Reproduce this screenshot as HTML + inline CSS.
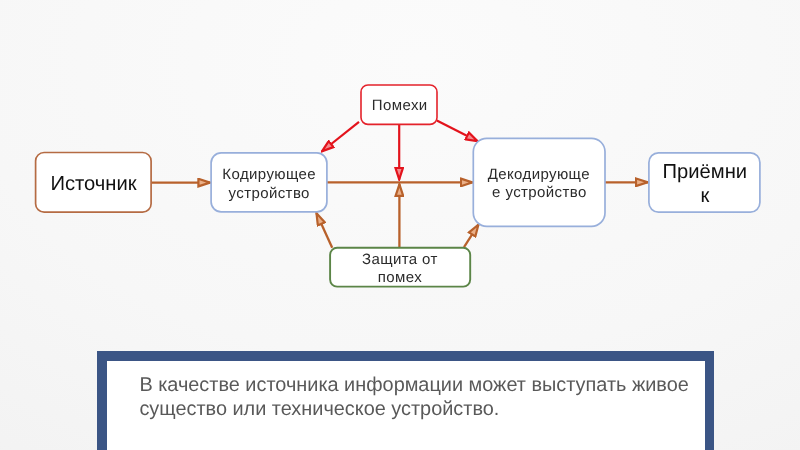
<!DOCTYPE html>
<html><head><meta charset="utf-8">
<style>
html,body{margin:0;padding:0;}
body{width:800px;height:450px;overflow:hidden;position:relative;
background:radial-gradient(ellipse 900px 600px at 420px 60px,#fbfbfb 0%,#f7f7f7 50%,#f0f0f0 100%);
font-family:"Liberation Sans",sans-serif;text-rendering:geometricPrecision;}
svg{position:absolute;left:0;top:0;will-change:transform;}
.note{position:absolute;left:97px;top:351px;width:597.8px;height:120px;border:10px solid #3b5585;border-right-width:9.3px;background:#fff;will-change:transform;}
.note p{margin:0;position:absolute;left:32.4px;font-size:19.9px;line-height:24px;color:#595959;white-space:nowrap;}
</style></head>
<body>
<svg width="800" height="450" viewBox="0 0 800 450" font-family="Liberation Sans, sans-serif">
<defs>
<marker id="ao" viewBox="0 0 14 10" refX="13" refY="5" markerWidth="14" markerHeight="10" markerUnits="userSpaceOnUse" orient="auto">
<path d="M1.2 1.2 L12.8 5 L1.2 8.8 Z" fill="#ebb088" stroke="#b8612b" stroke-width="2.2" stroke-linejoin="miter"/>
</marker>
<marker id="ar" viewBox="0 0 14 10" refX="13" refY="5" markerWidth="14" markerHeight="10" markerUnits="userSpaceOnUse" orient="auto">
<path d="M1.2 1.2 L12.8 5 L1.2 8.8 Z" fill="#f58a8e" stroke="#e3131c" stroke-width="2.2" stroke-linejoin="miter"/>
</marker>
</defs>
<!-- orange arrows -->
<g stroke="#b8612b" stroke-width="2.3" fill="none">
<line x1="151.5" y1="182.6" x2="210.2" y2="182.6" marker-end="url(#ao)"/>
<line x1="327" y1="182.4" x2="472.7" y2="182.4" marker-end="url(#ao)"/>
<line x1="605" y1="182.3" x2="647.8" y2="182.3" marker-end="url(#ao)"/>
<line x1="399.4" y1="247.8" x2="399.4" y2="184.1" marker-end="url(#ao)"/>
<line x1="332.2" y1="247.8" x2="316.4" y2="213.1" marker-end="url(#ao)"/>
<line x1="464" y1="247.2" x2="478.5" y2="224.5" marker-end="url(#ao)"/>
</g>
<!-- red arrows -->
<g stroke="#e3131c" stroke-width="2.2" fill="none">
<line x1="399.2" y1="124.4" x2="399.2" y2="179.6" marker-end="url(#ar)"/>
<line x1="359" y1="121.8" x2="321.8" y2="151.5" marker-end="url(#ar)"/>
<line x1="436.8" y1="120.4" x2="477.7" y2="141.3" marker-end="url(#ar)"/>
</g>
<!-- boxes -->
<rect x="35.6" y="152.5" width="115.5" height="59.7" rx="8.5" fill="#fff" stroke="#b56b43" stroke-width="1.7"/>
<rect x="211.1" y="152.9" width="115.8" height="58.9" rx="10" fill="#fff" stroke="#98afdb" stroke-width="1.7"/>
<rect x="361" y="85" width="76" height="39.4" rx="7" fill="#fff" stroke="#e4222b" stroke-width="1.6"/>
<rect x="473.3" y="138.3" width="131.7" height="88" rx="13.5" fill="#fff" stroke="#98afdb" stroke-width="1.7"/>
<rect x="648.9" y="152.9" width="111" height="59.2" rx="9.5" fill="#fff" stroke="#98afdb" stroke-width="1.7"/>
<rect x="330.1" y="247.8" width="140.1" height="38.8" rx="7" fill="#fff" stroke="#5b8547" stroke-width="1.9"/>
<!-- text -->
<g text-anchor="middle" fill="#111">
<text x="93.5" y="189.7" font-size="20.2">Источник</text>
<text x="704.8" y="177.6" font-size="20.2">Приёмни</text>
<text x="704.8" y="202.2" font-size="20.2">к</text>
</g>
<g text-anchor="middle" fill="#2b2b2b" font-size="15" letter-spacing="0.4">
<text x="269.2" y="178.6">Кодирующее</text>
<text x="269.2" y="197.5">устройство</text>
<text x="399.7" y="110">Помехи</text>
<text x="538.8" y="179.3">Декодирующе</text>
<text x="539.4" y="197.3">е устройство</text>
<text x="399.9" y="264">Защита от</text>
<text x="399.9" y="282">помех</text>
</g>
</svg>
<div class="note"><p style="top:12px">В качестве источника информации может выступать живое</p><p style="top:36.2px">существо или техническое устройство.</p></div>
</body></html>
